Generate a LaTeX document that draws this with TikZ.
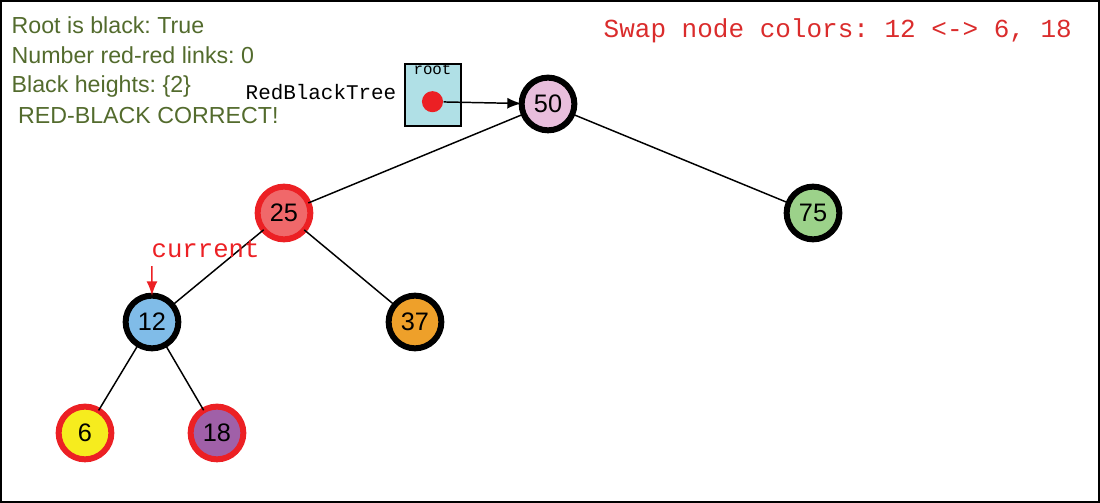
\documentclass[tikz,border=0pt]{standalone}
\usepackage{fontspec}
\setsansfont{Liberation Sans}
\setmonofont{Liberation Mono}
\usepackage{tkz-graph}
\usetikzlibrary{arrows}
\usetikzlibrary{shapes}
\frenchspacing

\definecolor{ringRed}{RGB}{236,32,36}
\definecolor{textRed}{RGB}{218,44,44}
\definecolor{textGreen}{RGB}{83,107,45}
\definecolor{rootFill}{RGB}{176,224,230}
\definecolor{pinkFill}{RGB}{232,190,220}
\definecolor{salmonFill}{RGB}{240,104,106}
\definecolor{greenFill}{RGB}{156,210,138}
\definecolor{blueFill}{RGB}{128,188,232}
\definecolor{orangeFill}{RGB}{238,160,42}
\definecolor{yellowFill}{RGB}{246,236,30}
\definecolor{purpleFill}{RGB}{160,96,168}

\begin{document}
\begin{tikzpicture}[scale = 10, font=\sffamily]
	\tikzstyle{VertexStyle} = []
	\tikzstyle{EdgeStyle} = [line width = 0.42pt]
	\tikzstyle{blackStyle}=[shape = circle, minimum size = 15pt, inner sep = 0pt, line width = 1.7pt, draw = black, font = \fontsize{7.2}{7.2}\selectfont\sffamily]
	\tikzstyle{redStyle}=[blackStyle, draw = ringRed]
	\tikzstyle{infoStyle}=[anchor = base west, inner sep = 0pt, text = textGreen, font = \fontsize{6.6}{7}\selectfont\sffamily]
	\tikzstyle{codeStyle}=[inner sep = 0pt, font = \fontsize{7.4}{8}\selectfont\ttfamily]
	\useasboundingbox (0, 0) rectangle (1.1, 0.503);
	\draw[line width = 0.6pt] (0.001, 0.001) rectangle (1.099, 0.502);
	\node[infoStyle] (isblack) at (0.011, 0.469) {Root is black: True};
	\node[infoStyle] (redlinks) at (0.011, 0.4395) {Number red-red links: 0};
	\node[infoStyle] (heights) at (0.011, 0.410) {Black heights: \{2\}};
	\node[infoStyle] (correct) at (0.011, 0.379) {\ RED-BLACK CORRECT!};
	\node[codeStyle, anchor = base west, text = textRed] (swap) at (0.603, 0.465) {Swap node colors: 12 <-> 6, 18};
	\node[codeStyle, anchor = base east, font = \fontsize{5.95}{6}\selectfont\ttfamily] (tree) at (0.397, 0.403) {RedBlackTree};
	\node[draw, fill = rootFill, line width = 0.42pt, minimum width = 16pt, minimum height = 17.7pt, inner sep = 0pt] (rootbox) at (0.433, 0.408) {};
	\node[codeStyle, anchor = base, font = \fontsize{4.5}{5}\selectfont\ttfamily] (rootlabel) at (0.4325, 0.428) {root};
	\node[shape = circle, fill = ringRed, minimum size = 6pt, inner sep = 0pt] (dot) at (0.4325, 0.4013) {};
	\Vertex[style = {blackStyle, fill = pinkFill}, x = 0.548, y = 0.399, L = {50}]{v50}
	\Vertex[style = {redStyle, fill = salmonFill}, x = 0.284, y = 0.290, L = {25}]{v25}
	\Vertex[style = {blackStyle, fill = greenFill}, x = 0.813, y = 0.290, L = {75}]{v75}
	\Vertex[style = {blackStyle, fill = blueFill}, x = 0.152, y = 0.181, L = {12}]{v12}
	\Vertex[style = {blackStyle, fill = orangeFill}, x = 0.415, y = 0.181, L = {37}]{v37}
	\Vertex[style = {redStyle, fill = yellowFill}, x = 0.085, y = 0.070, L = {6}]{v6}
	\Vertex[style = {redStyle, fill = purpleFill}, x = 0.217, y = 0.070, L = {18}]{v18}
	\Edge(v50)(v25)
	\Edge(v50)(v75)
	\Edge(v25)(v12)
	\Edge(v25)(v37)
	\Edge(v12)(v6)
	\Edge(v12)(v18)
	\Edge[style = {-latex}](dot)(v50)
	\node[codeStyle, anchor = base west, text = ringRed, font = \fontsize{7.3}{8}\selectfont\ttfamily] (current) at (0.151, 0.245) {current};
	\coordinate (curtail) at (0.152, 0.237);
	\draw[-latex, ringRed, line width = 0.42pt] (curtail) -- (v12);
\end{tikzpicture}
\end{document}
